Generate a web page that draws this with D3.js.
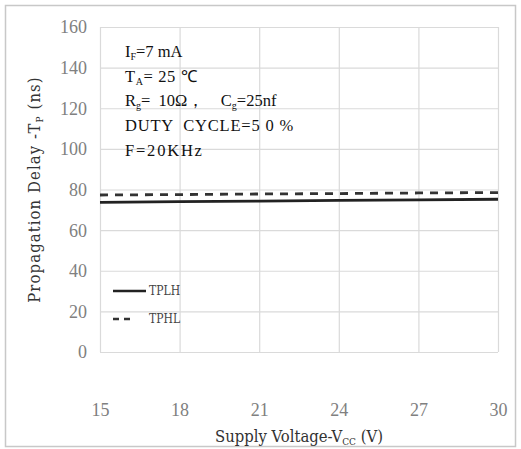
<!DOCTYPE html>
<html><head><meta charset="utf-8">
<script src="https://cdn.jsdelivr.net/npm/d3@7"></script>
<style>body{margin:0;background:#fff}svg{display:block}text{white-space:pre}</style>
</head><body>
<script>
const voltages = [15, 18, 21, 24, 27, 30];
const tplh = [73.7, 74.0, 74.3, 74.6, 74.9, 75.2];
const tphl = [77.3, 77.5, 77.8, 78.0, 78.3, 78.5];
const yTicks = [0, 20, 40, 60, 80, 100, 120, 140, 160];
const xTicks = [15, 18, 21, 24, 27, 30];
const seriesNames = ["TPLH", "TPHL"];

const W = 521, H = 449;
const m = {left: 100, right: 23, top: 27, bottom: 97};
const svg = d3.select("body").append("svg").attr("width", W).attr("height", H);
svg.append("rect").attr("x", 5.5).attr("y", 5.5).attr("width", 510).attr("height", 441)
  .attr("fill", "#fff").attr("stroke", "#c8c8c8").attr("stroke-width", 1.5);

const x = d3.scaleLinear().domain([15, 30]).range([m.left, W - m.right]);
const y = d3.scaleLinear().domain([0, 160]).range([H - m.bottom, m.top]);

const g = svg.append("g");
g.selectAll(".hg").data(yTicks).join("line")
  .attr("x1", x(15)).attr("x2", x(30)).attr("y1", d => y(d) + 0.5).attr("y2", d => y(d) + 0.5)
  .attr("stroke", "#dadada").attr("stroke-width", 1.2);
g.selectAll(".vg").data(xTicks).join("line")
  .attr("y1", y(0)).attr("y2", y(160)).attr("x1", d => x(d) + 0.5).attr("x2", d => x(d) + 0.5)
  .attr("stroke", "#dadada").attr("stroke-width", 1.2);

const yAxis = svg.append("g").attr("transform", `translate(${x(15)},0)`)
  .call(d3.axisLeft(y).tickValues(yTicks).tickSize(0).tickPadding(13));
const xAxis = svg.append("g").attr("transform", `translate(0,${y(0)})`)
  .call(d3.axisBottom(x).tickValues(xTicks).tickSize(0).tickPadding(64));
[yAxis, xAxis].forEach(a => {
  a.select(".domain").remove();
  a.selectAll("text").attr("font-family", "Liberation Serif, serif").attr("font-size", 18)
    .attr("fill", "#808080");
});
xAxis.selectAll("text").attr("dy", "0");
yAxis.selectAll("text").attr("dy", "0.33em");

const line = d3.line().x((d, i) => x(voltages[i])).y(d => y(d));
svg.append("path").datum(tplh).attr("d", line).attr("fill", "none")
  .attr("stroke", "#222").attr("stroke-width", 2.8);
svg.append("path").datum(tphl).attr("d", line).attr("fill", "none")
  .attr("stroke", "#333").attr("stroke-width", 2.8).attr("stroke-dasharray", "8,7");

const leg = svg.append("g").attr("font-family", "DejaVu Serif Condensed, serif").attr("font-size", 12).attr("fill", "#444");
svg.append("line").attr("x1", 113).attr("x2", 146).attr("y1", 291).attr("y2", 291).attr("stroke", "#222").attr("stroke-width", 2.5);
svg.append("line").attr("x1", 113).attr("x2", 131).attr("y1", 319).attr("y2", 319).attr("stroke", "#333").attr("stroke-width", 2.5).attr("stroke-dasharray", "6,5");
leg.append("text").attr("x", 149).attr("y", 295).text(seriesNames[0]);
leg.append("text").attr("x", 149).attr("y", 323).text(seriesNames[1]);

const ann = svg.append("g").attr("font-family", "Liberation Serif, Times New Roman, serif").attr("font-size", 16.5).attr("fill", "#111");
function t(yb, parts, ls) {
  const te = ann.append("text").attr("x", 125).attr("y", yb).attr("letter-spacing", ls || 0);
  parts.forEach(p => {
    const s = te.append("tspan").text(p[0]);
    if (p[1] === "sub") s.attr("font-size", 10).attr("dy", 3);
    if (p[1] === "up") s.attr("dy", -3);
  });
}
t(57, [["I"], ["F", "sub"], ["=7 mA", "up"]]);
t(82, [["T"], ["A", "sub"], ["= 25 \u2103", "up"]], 0.6);
t(106, [["R"], ["g", "sub"], ["=  10\u03A9\uFF0C    C", "up"], ["g", "sub"], ["=25nf", "up"]]);
t(131, [["DUTY  CYCLE=5 0 %"]], 0.8);
t(156, [["F=20KHz"]], 1.8);

const yt = svg.append("text").attr("transform", `translate(40,${(y(0)+y(160))/2}) rotate(-90)`)
  .attr("text-anchor", "middle").attr("font-family", "DejaVu Serif Condensed, serif").attr("font-size", 16.5)
  .attr("letter-spacing", 1.1).attr("fill", "#333");
yt.append("tspan").text("Propagation Delay -T");
yt.append("tspan").text("P").attr("font-size", 10).attr("dy", 3);
yt.append("tspan").text(" (ns)").attr("dy", -3);

const xt = svg.append("text").attr("x", 299).attr("y", 442)
  .attr("text-anchor", "middle").attr("font-family", "DejaVu Serif Condensed, serif").attr("font-size", 16.5).attr("fill", "#333");
xt.append("tspan").text("Supply Voltage-V");
xt.append("tspan").text("CC").attr("font-size", 10).attr("dy", 3);
xt.append("tspan").text(" (V)").attr("dy", -3);
</script>
</body></html>
